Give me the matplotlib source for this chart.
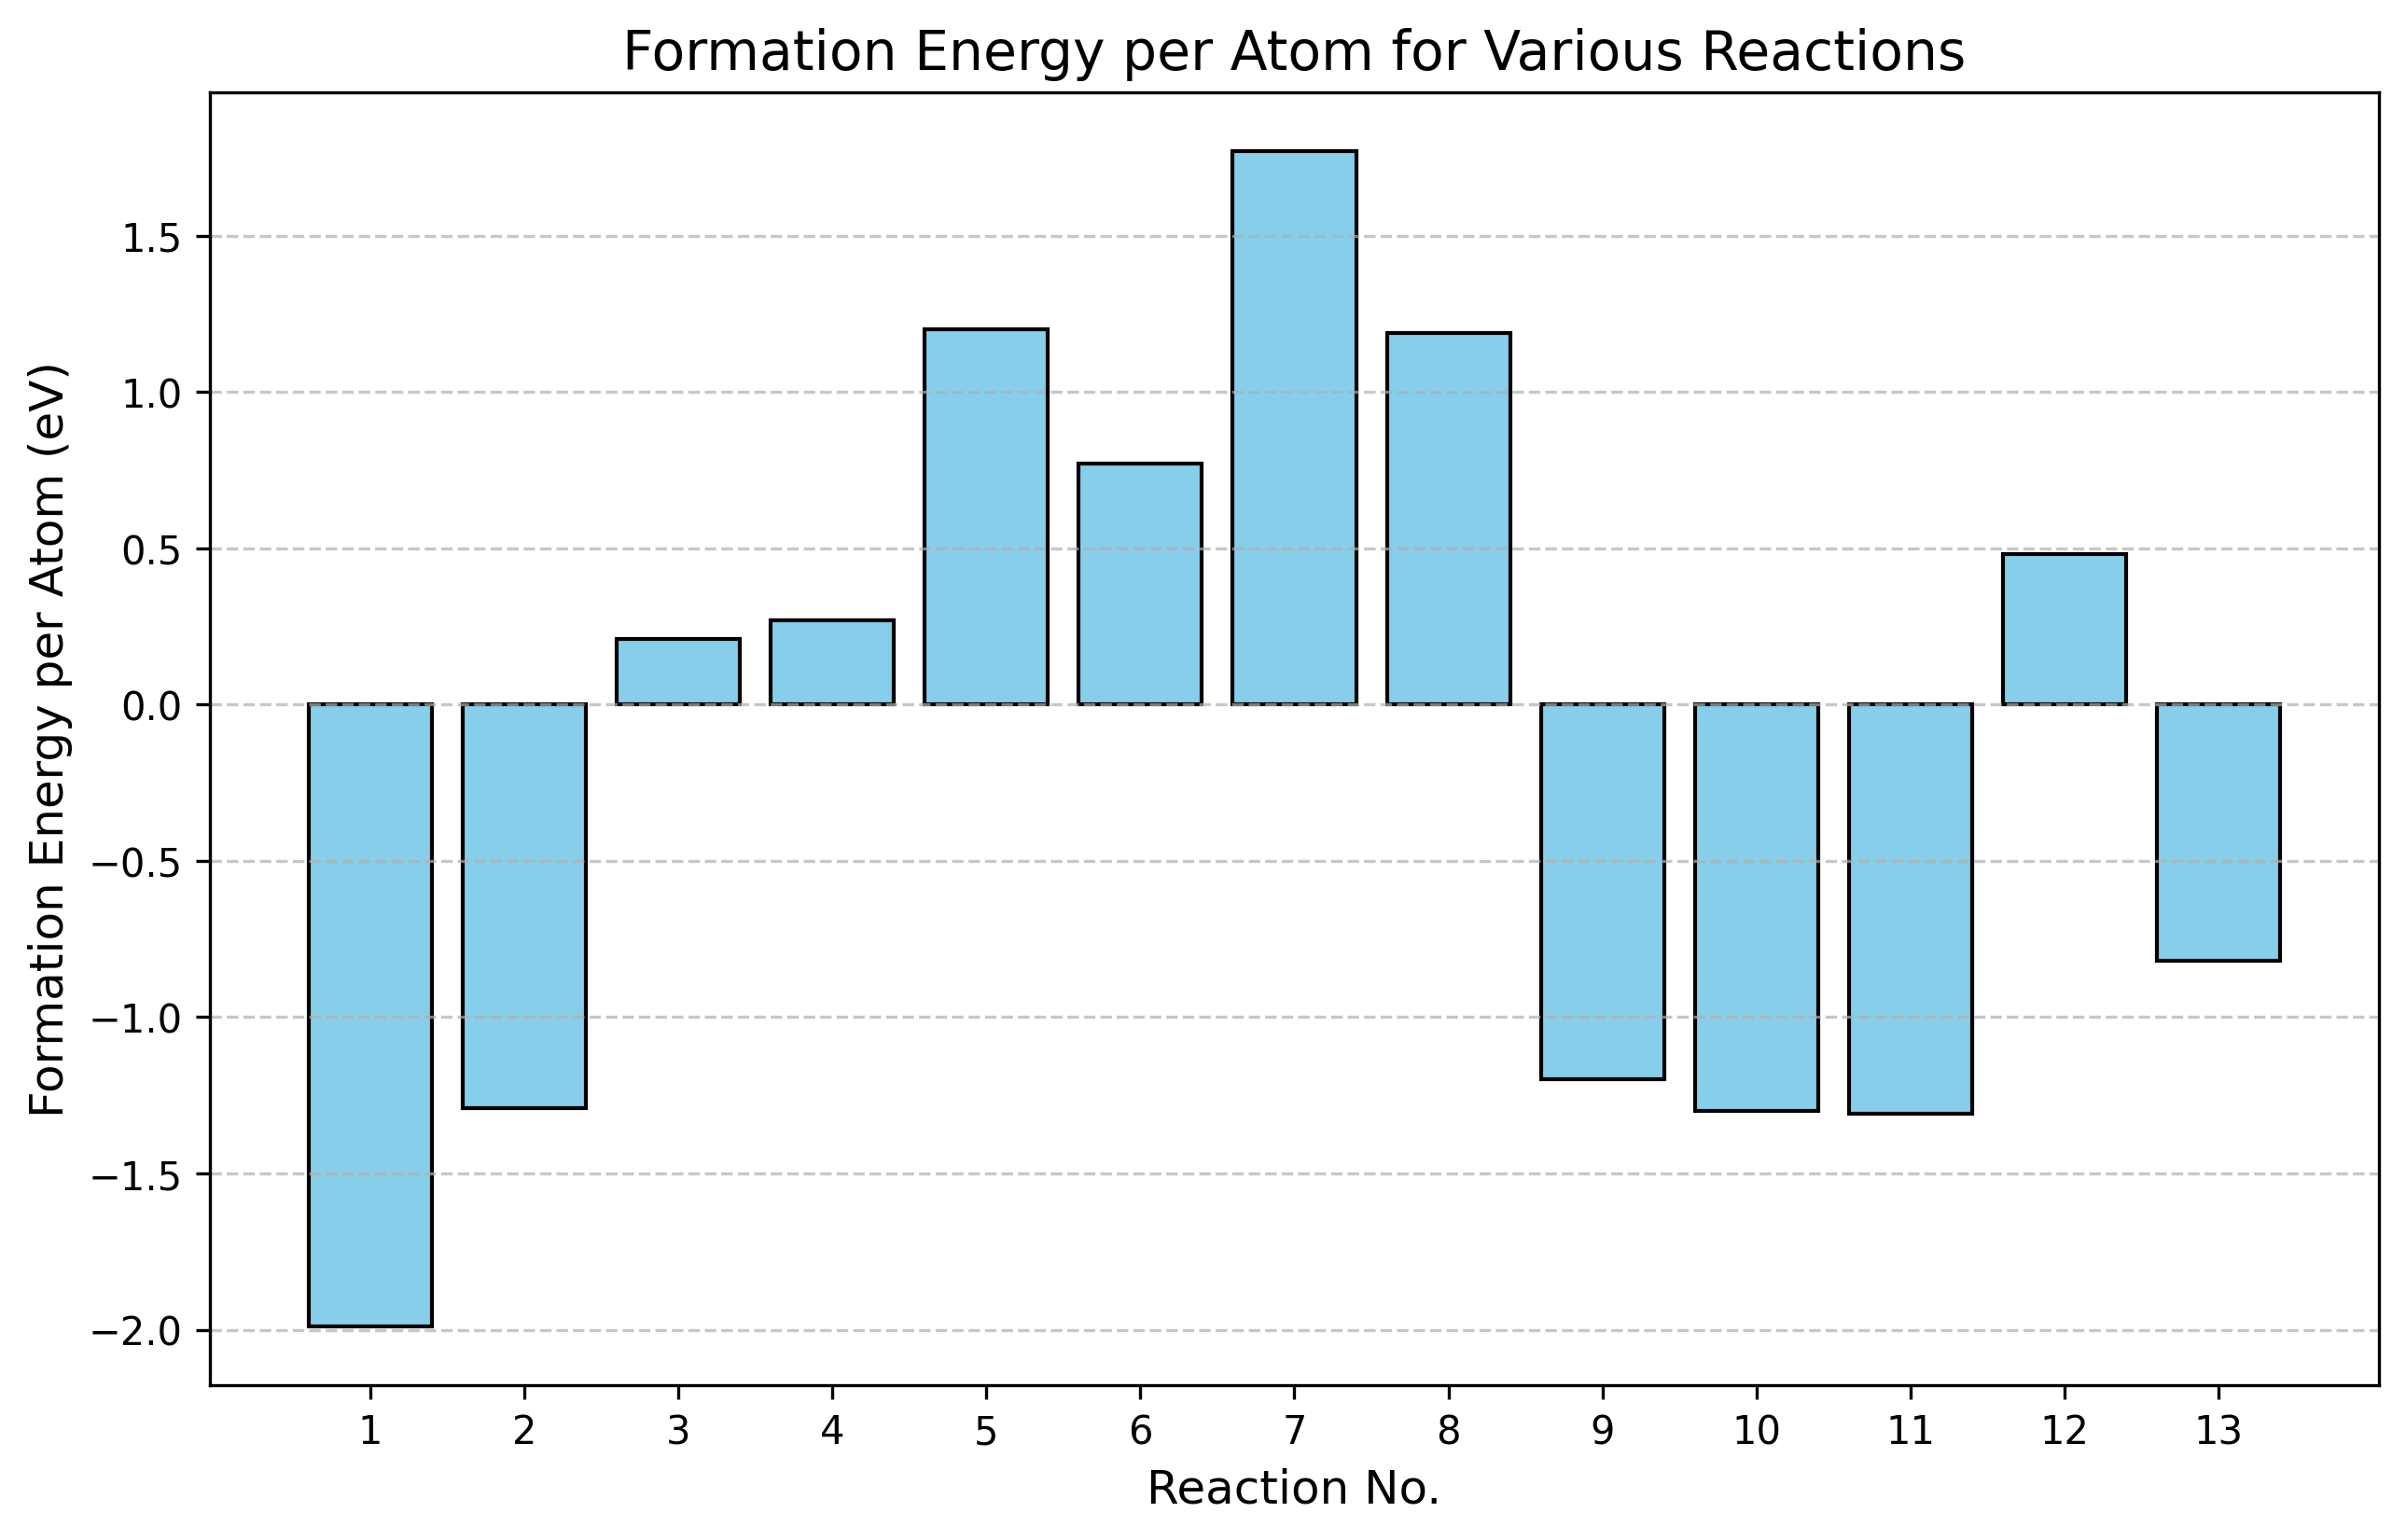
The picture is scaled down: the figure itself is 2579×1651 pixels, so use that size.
import matplotlib
matplotlib.use("Agg")
import matplotlib.pyplot as plt

# formation energies
reactions = list(range(1, 14))
energies = [-1.99, -1.29, 0.21, 0.27, 1.20, 0.77, 1.77, 1.19, -1.20, -1.30, -1.31, 0.48, -0.82]

plt.figure(figsize=(10, 6))
plt.bar(reactions, energies, color='skyblue', edgecolor='black')
plt.xlabel('Reaction No.', fontsize=12)
plt.ylabel('Formation Energy per Atom (eV)', fontsize=12)
plt.title('Formation Energy per Atom for Various Reactions', fontsize=14)
plt.xticks(reactions)
plt.grid(axis='y', linestyle='--', alpha=0.7)
plt.savefig("out.png", dpi=300, bbox_inches='tight')
plt.close()
